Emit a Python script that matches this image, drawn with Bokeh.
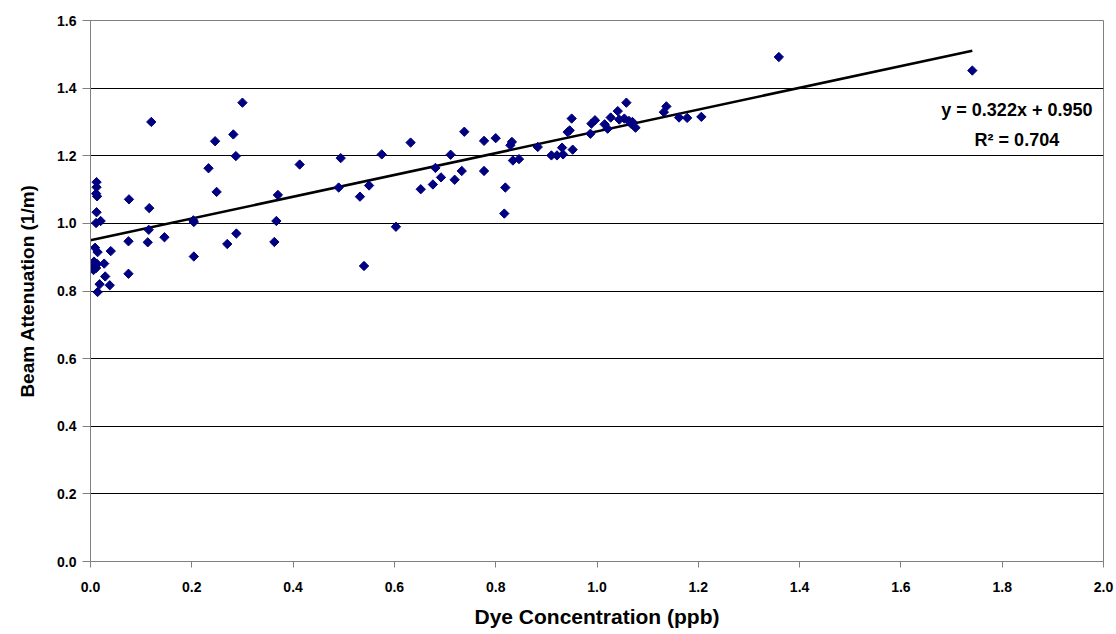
import numpy as np
from bokeh.plotting import figure
from bokeh.models import PrintfTickFormatter, Range1d, Label
from bokeh.embed import file_html
from bokeh.resources import INLINE

# ---- data ----
dye_ppb = [
    0.012, 0.012, 0.011, 0.013, 0.012, 0.011, 0.020,
    0.009, 0.014, 0.040,
    0.007, 0.009, 0.011, 0.006, 0.013, 0.008,
    0.027, 0.029, 0.018, 0.038, 0.014,
    0.076, 0.075, 0.075,
    0.120, 0.116, 0.115, 0.113, 0.146,
    0.203, 0.204, 0.204,
    0.233, 0.246, 0.249, 0.270, 0.282, 0.287, 0.288, 0.300,
    0.363, 0.367, 0.370, 0.413,
    0.490, 0.494, 0.532, 0.540, 0.550, 0.575, 0.603,
    0.632, 0.652, 0.676, 0.681, 0.692, 0.711, 0.719, 0.733, 0.738,
    0.777, 0.777, 0.800, 0.819, 0.817, 0.829, 0.832, 0.834, 0.846,
    0.883, 0.910, 0.921, 0.931, 0.933, 0.942, 0.946, 0.950, 0.952,
    0.987, 0.989, 0.996, 1.015, 1.021, 1.027, 1.041, 1.044, 1.058, 1.054, 1.063, 1.067, 1.076, 1.070,
    1.132, 1.137, 1.162, 1.178, 1.206,
    1.359, 1.741,
]
beam_att = [
    1.122, 1.107, 1.088, 1.080, 1.033, 1.001, 1.007,
    0.928, 0.915, 0.918,
    0.887, 0.875, 0.868, 0.862, 0.880, 0.872,
    0.881, 0.843, 0.820, 0.817, 0.797,
    1.071, 0.947, 0.851,
    1.300, 1.045, 0.981, 0.944, 0.959,
    1.009, 1.004, 0.902,
    1.163, 1.243, 1.093, 0.939, 1.263, 1.199, 0.970, 1.357,
    0.945, 1.007, 1.084, 1.174,
    1.106, 1.193, 1.079, 0.874, 1.112, 1.204, 0.990,
    1.239, 1.101, 1.115, 1.164, 1.136, 1.203, 1.129, 1.155, 1.271,
    1.244, 1.155, 1.252, 1.106, 1.029, 1.231, 1.241, 1.186, 1.190,
    1.226, 1.201, 1.201, 1.224, 1.204, 1.270, 1.275, 1.310, 1.218,
    1.265, 1.295, 1.305, 1.293, 1.280, 1.313, 1.332, 1.307, 1.357, 1.310, 1.303, 1.295, 1.283, 1.300,
    1.329, 1.346, 1.313, 1.312, 1.315,
    1.492, 1.452,
]
trend_slope = 0.322
trend_intercept = 0.950
r_squared = 0.704

x_ticks = [0.0, 0.2, 0.4, 0.6, 0.8, 1.0, 1.2, 1.4, 1.6, 1.8, 2.0]
y_ticks = [0.0, 0.2, 0.4, 0.6, 0.8, 1.0, 1.2, 1.4, 1.6]

FONT = "Liberation Sans"

p = figure(width=1116, height=634, output_backend="svg", toolbar_location=None,
           x_range=Range1d(0, 2.0), y_range=Range1d(0, 1.6),
           min_border_left=90, min_border_right=13, min_border_top=20, min_border_bottom=73)

p.background_fill_color = "white"
p.border_fill_color = "white"
p.outline_line_color = "#808080"
p.outline_line_width = 1

# trendline
tx = np.array([0.0, max(dye_ppb)])
ty = trend_slope * tx + trend_intercept
p.line(tx, ty, line_color="black", line_width=2.6)

# points (diamonds)
p.scatter(dye_ppb, beam_att, marker="square", angle=np.pi / 4, size=6.6,
          fill_color="#000080", line_color="#000080")

# axes
for ax in (p.xaxis[0], p.yaxis[0]):
    ax.axis_line_color = "#808080"
    ax.axis_line_width = 1
    ax.major_tick_line_color = "#808080"
    ax.minor_tick_line_color = None
    ax.major_tick_in = 0
    ax.major_label_text_font = FONT
    ax.major_label_text_font_style = "bold"
    ax.major_label_text_font_size = "14px"
    ax.major_label_text_color = "black"
    ax.axis_label_text_font = FONT
    ax.axis_label_text_font_style = "bold"
    ax.axis_label_text_color = "black"
    ax.formatter = PrintfTickFormatter(format="%.1f")

p.xaxis.ticker = x_ticks
p.yaxis.ticker = y_ticks
p.xaxis.major_tick_out = 6
p.yaxis.major_tick_out = 8
p.xaxis.major_label_standoff = 14
p.yaxis.major_label_standoff = 6
p.xaxis.axis_label = "Dye Concentration (ppb)"
p.yaxis.axis_label = "Beam Attenuation (1/m)"
p.xaxis.axis_label_text_font_size = "21px"
p.yaxis.axis_label_text_font_size = "19px"
p.xaxis.axis_label_standoff = 10
p.yaxis.axis_label_standoff = 16

# grid
p.xgrid.visible = False
p.ygrid.ticker = y_ticks
p.ygrid.grid_line_color = "black"
p.ygrid.grid_line_width = 1

# equation annotation
p.add_layout(Label(x=1.829, y=1.335, text=f"y = {trend_slope:.3f}x + {trend_intercept:.3f}",
                   text_align="center", text_baseline="middle",
                   text_font=FONT, text_font_style="bold", text_font_size="18px",
                   text_color="black"))
p.add_layout(Label(x=1.829, y=1.246, text=f"R\u00b2 = {r_squared:.3f}",
                   text_align="center", text_baseline="middle",
                   text_font=FONT, text_font_style="bold", text_font_size="18px",
                   text_color="black"))

open("out.html", "w").write(file_html(p, INLINE))
